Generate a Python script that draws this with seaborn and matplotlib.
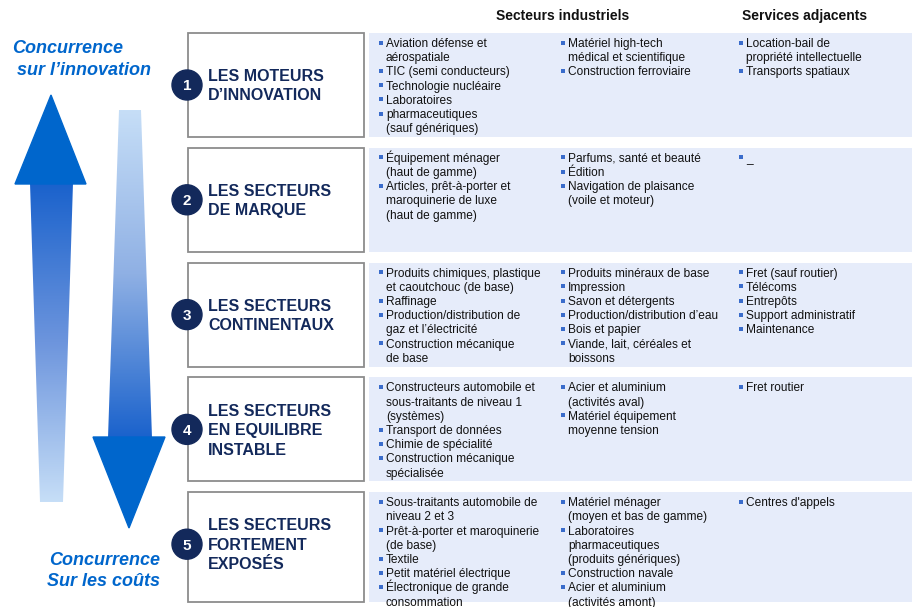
import numpy as np
import matplotlib
matplotlib.use("Agg")
import matplotlib.pyplot as plt
from matplotlib.patches import Rectangle, Circle, Polygon
import seaborn as sns

# --- contenu du schéma ---
segments = [
    "LES MOTEURS\nD’INNOVATION",
    "LES SECTEURS\nDE MARQUE",
    "LES SECTEURS\nCONTINENTAUX",
    "LES SECTEURS\nEN EQUILIBRE\nINSTABLE",
    "LES SECTEURS\nFORTEMENT\nEXPOSÉS",
]
industriels_a = [
    ["Aviation défense et\naérospatiale", "TIC (semi conducteurs)", "Technologie nucléaire",
     "Laboratoires", "pharmaceutiques\n(sauf génériques)"],
    ["Équipement ménager\n(haut de gamme)", "Articles, prêt-à-porter et\nmaroquinerie de luxe\n(haut de gamme)"],
    ["Produits chimiques, plastique\net caoutchouc (de base)", "Raffinage",
     "Production/distribution de\ngaz et l’électricité", "Construction mécanique\nde base"],
    ["Constructeurs automobile et\nsous-traitants de niveau 1\n(systèmes)", "Transport de données",
     "Chimie de spécialité", "Construction mécanique\nspécialisée"],
    ["Sous-traitants automobile de\nniveau 2 et 3", "Prêt-à-porter et maroquinerie\n(de base)", "Textile",
     "Petit matériel électrique", "Électronique de grande\nconsommation"],
]
industriels_b = [
    ["Matériel high-tech\nmédical et scientifique", "Construction ferroviaire"],
    ["Parfums, santé et beauté", "Édition", "Navigation de plaisance\n(voile et moteur)"],
    ["Produits minéraux de base", "Impression", "Savon et détergents", "Production/distribution d’eau",
     "Bois et papier", "Viande, lait, céréales et\nboissons"],
    ["Acier et aluminium\n(activités aval)", "Matériel équipement\nmoyenne tension"],
    ["Matériel ménager\n(moyen et bas de gamme)", "Laboratoires\npharmaceutiques\n(produits génériques)",
     "Construction navale", "Acier et aluminium\n(activités amont)"],
]
services = [
    ["Location-bail de\npropriété intellectuelle", "Transports spatiaux"],
    ["_"],
    ["Fret (sauf routier)", "Télécoms", "Entrepôts", "Support administratif", "Maintenance"],
    ["Fret routier"],
    ["Centres d'appels"],
]
headers = ["Secteurs industriels", "Services adjacents"]
axe_haut = ["Concurrence", "sur l’innovation"]
axe_bas = ["Concurrence", "Sur les coûts"]

sns.set_theme(style="white")
plt.rcParams['font.family'] = ['Liberation Sans', 'DejaVu Sans']

NAVY = '#13295B'
BLUE = '#0066CC'
PANEL = '#E6ECFA'
BULLET = '#3A6CCB'

fig = plt.figure(figsize=(9.14, 6.07), dpi=100)
ax = fig.add_axes([0, 0, 1, 1])
ax.set_xlim(0, 914)
ax.set_ylim(607, 0)
ax.axis('off')


def gradient_poly(pts, y0, y1, colors):
    poly = Polygon(pts, closed=True, facecolor='none', edgecolor='none')
    ax.add_patch(poly)
    cmap = sns.blend_palette(colors, as_cmap=True)
    xs = [p[0] for p in pts]
    grad = np.linspace(0, 1, 256).reshape(-1, 1)
    im = ax.imshow(grad, cmap=cmap, aspect='auto', origin='upper',
                   extent=(min(xs), max(xs), y1, y0), zorder=2)
    im.set_clip_path(poly)


# flèche montante
gradient_poly([(30, 183), (73, 183), (63, 502), (40, 502)], 183, 502,
              ['#1A62CC', '#6D95DD', '#C6DEF7'])
ax.add_patch(Polygon([(15, 184), (51, 95), (86, 184)], color=BLUE, zorder=3))
# flèche descendante
gradient_poly([(119, 110), (141, 110), (152, 438), (108, 438)], 110, 438,
              ['#C6DEF7', '#8FB0E4', '#1A62CC'])
ax.add_patch(Polygon([(93, 437), (165, 437), (129, 528)], color=BLUE, zorder=3))
ax.set_xlim(0, 914)
ax.set_ylim(607, 0)

ax.text(12, 53, axe_haut[0], fontsize=13, fontweight='bold', style='italic', color=BLUE)
ax.text(17, 75, axe_haut[1], fontsize=13, fontweight='bold', style='italic', color=BLUE)
ax.text(160, 565, axe_bas[0], fontsize=13, fontweight='bold', style='italic', color=BLUE, ha='right')
ax.text(160, 586, axe_bas[1], fontsize=13, fontweight='bold', style='italic', color=BLUE, ha='right')

ax.text(563, 20, headers[0], fontsize=10, fontweight='bold', color='#111111', ha='center')
ax.text(805, 20, headers[1], fontsize=10, fontweight='bold', color='#111111', ha='center')

col_x = [386, 568, 746]
for i in range(len(segments)):
    top = 33 + i * 114.8
    h = 110 if i == len(segments) - 1 else 104
    ax.add_patch(Rectangle((369, top), 543, h, facecolor=PANEL, edgecolor='none', zorder=1))
    ax.add_patch(Rectangle((188, top), 176, h, facecolor='white', edgecolor='#8C8C8C', lw=1.3, zorder=1))
    cy = top + 52
    ax.add_patch(Circle((187, cy), 15, color=NAVY, zorder=4))
    ax.text(187, cy + 5.5, str(i + 1), fontsize=11, fontweight='bold', color='white',
            ha='center', va='baseline', zorder=5)
    lines = segments[i].split('\n')
    for k, ln in enumerate(lines):
        yc = cy + (k - (len(lines) - 1) / 2) * 19.5
        ax.text(208, yc + 5.7, ln, fontsize=11.5, fontweight='bold', color=NAVY, va='baseline', zorder=5)
    for x, items in zip(col_x, [industriels_a[i], industriels_b[i], services[i]]):
        y = top + 14
        for item in items:
            ax.plot(x - 5.5, y - 4.4, marker='s', ms=2.5, mew=0, color=BULLET, zorder=5)
            for ln in item.split('\n'):
                ax.text(x, y, ln, fontsize=8.6, color='#111111', va='baseline', zorder=5)
                y += 14.2

fig.savefig("out.png", dpi=100)
